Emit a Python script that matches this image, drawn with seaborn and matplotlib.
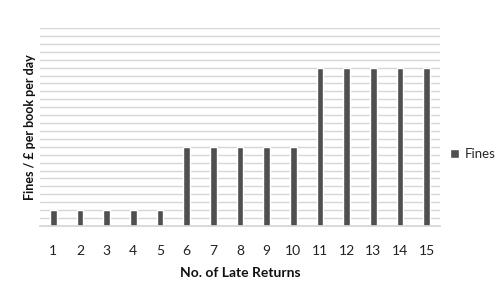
import matplotlib
matplotlib.use("Agg")
import matplotlib.pyplot as plt
import seaborn as sns
import numpy as np
import pandas as pd

late_returns = [str(i) for i in range(1, 16)]
fines = [0.10, 0.10, 0.10, 0.10, 0.10,
         0.50, 0.50, 0.50, 0.50, 0.50,
         1.00, 1.00, 1.00, 1.00, 1.00]
series_name = "Fines"

df = pd.DataFrame({"late": late_returns, "fine": fines, "series": series_name})

sns.set_theme(style="white")
plt.rcParams['font.family'] = ['Lato', 'DejaVu Sans']

fig = plt.figure(figsize=(5, 3), dpi=100)
ax = fig.add_axes([0.08, 0.2467, 0.80, 0.66])

sns.barplot(data=df, x="late", y="fine", hue="series", palette=["#4f4f4f"],
            width=0.26, ax=ax, legend=True)

ax.set_ylim(0, 1.25)
ax.set_yticks(np.arange(0, 1.2501, 0.05))
ax.yaxis.grid(True, color="#d6d6d6", linewidth=1.0)
ax.set_axisbelow(True)
ax.tick_params(axis="y", left=False, labelleft=False)
ax.tick_params(axis="x", bottom=False, labelsize=10, colors="#222222", pad=8)
for s in ["top", "right", "left"]:
    ax.spines[s].set_visible(False)
ax.spines["bottom"].set_color("#d6d6d6")

ax.set_xlabel("No. of Late Returns", fontsize=10, fontweight="bold", color="#111111", labelpad=7)
ax.set_ylabel("Fines / £ per book per day", fontsize=9, fontweight="bold", color="#111111", labelpad=3)

leg = ax.legend(loc="center left", bbox_to_anchor=(1.025, 0.364), frameon=False,
                borderaxespad=0, borderpad=0,
                handlelength=0.7, handleheight=0.7, handletextpad=0.4, fontsize=9.5)

fig.savefig("out.png", dpi=100)
